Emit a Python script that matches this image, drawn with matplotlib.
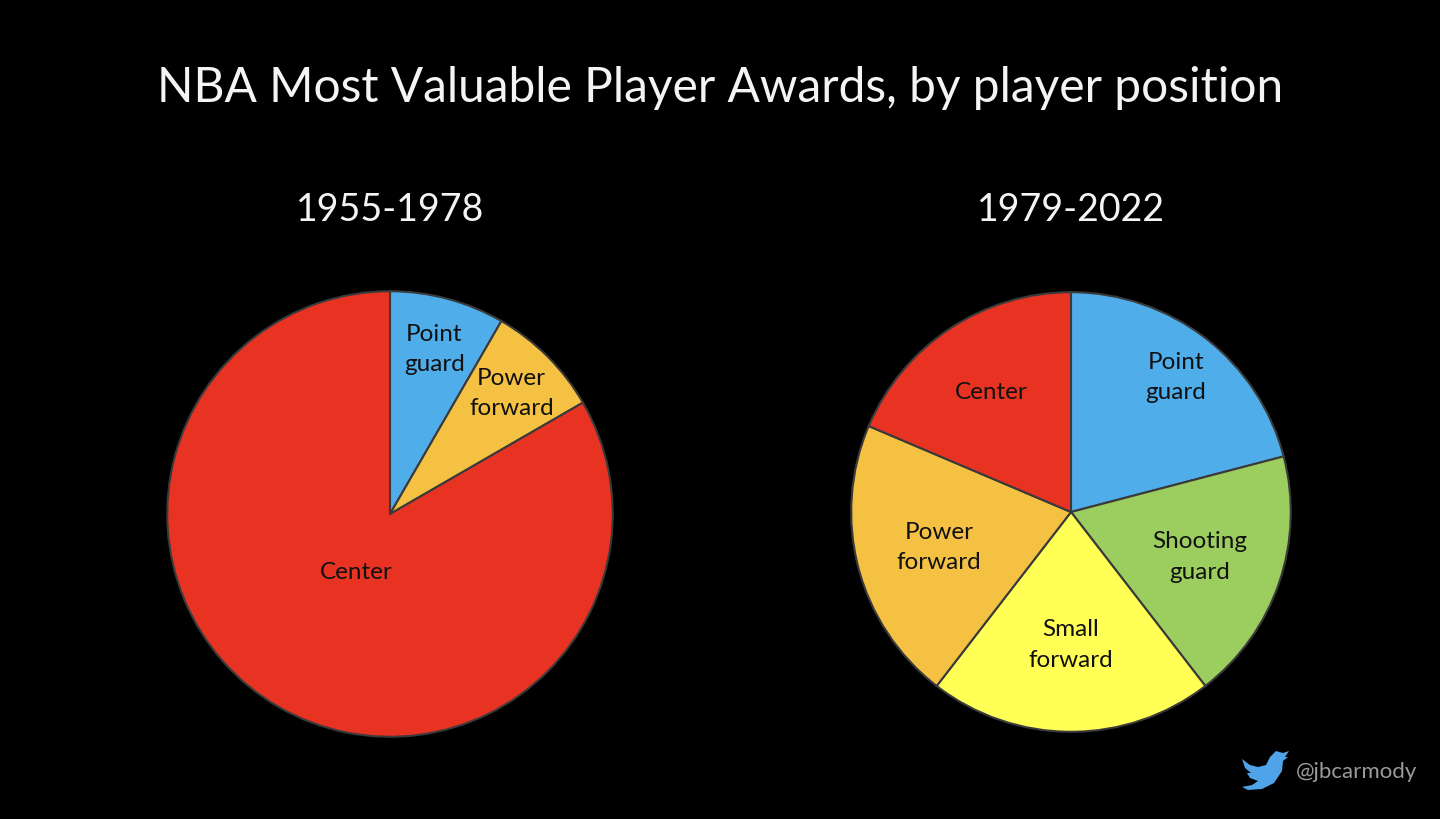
import numpy as np
import matplotlib.pyplot as plt
from matplotlib.patches import Polygon

# data
left_title = '1955-1978'
left_labels = ['Point\nguard', 'Power\nforward', 'Center']
left_values = [2, 2, 20]
left_colors = ['#4FADEA', '#F4C142', '#E83323']
left_dist = [0.77, 0.77, 0.30]

right_title = '1979-2022'
right_labels = ['Point\nguard', 'Shooting\nguard', 'Small\nforward', 'Power\nforward', 'Center']
right_values = [9, 8, 9, 9, 8]
right_colors = ['#4FADEA', '#9BCD5F', '#FFFF55', '#F4C142', '#E83323']
right_dist = [0.78, 0.62, 0.60, 0.62, 0.66]

W, H = 1440, 820
plt.rcParams['font.family'] = ['Lato', 'DejaVu Sans']
fig = plt.figure(figsize=(W / 100, H / 100), dpi=100, facecolor='black')

fig.text(720 / W, 1 - 88 / H, 'NBA Most Valuable Player Awards, by player position',
         color='#f4f4f4', fontsize=34.5, ha='center', va='center')


def draw_pie(cx, cy, r, title, labels, values, colors, dists):
    ax = fig.add_axes([(cx - r) / W, (H - cy - r) / H, 2 * r / W, 2 * r / H])
    ax.set_facecolor('black')
    wedges, _ = ax.pie(values, colors=colors, startangle=90, counterclock=False,
                       radius=1, wedgeprops=dict(edgecolor='#3a3a3a', linewidth=1.5))
    for w, lab, d in zip(wedges, labels, dists):
        a = np.deg2rad((w.theta1 + w.theta2) / 2)
        ax.text(d * np.cos(a), d * np.sin(a), lab, ha='center', va='center',
                fontsize=17.5, color='#111111', linespacing=1.55)
    ax.set_xlim(-1.01, 1.01)
    ax.set_ylim(-1.01, 1.01)
    ax.set_aspect('equal')
    ax.axis('off')
    fig.text(cx / W, 1 - 210 / H, title, color='#f4f4f4', fontsize=27,
             ha='center', va='center')


draw_pie(390, 515, 225, left_title, left_labels, left_values, left_colors, left_dist)
draw_pie(1071, 513, 222, right_title, right_labels, right_values, right_colors, right_dist)

# twitter handle
bird = [(1242, 760), (1250, 766), (1258, 768), (1266, 766), (1270, 758), (1276, 752),
        (1283, 754), (1289, 752), (1285, 758), (1288, 758), (1283, 762), (1282, 772),
        (1274, 784), (1262, 790), (1248, 791), (1242, 788), (1252, 786), (1258, 782),
        (1250, 779), (1247, 774), (1251, 774), (1245, 769)]
fig.patches.append(Polygon([(x / W, 1 - y / H) for x, y in bird], closed=True,
                           transform=fig.transFigure, facecolor='#4FA3E8', edgecolor='none'))
fig.text(1296 / W, 1 - 772 / H, '@jbcarmody', color='#9a9a9a', fontsize=16,
         ha='left', va='center')

fig.savefig('out.png', dpi=100, facecolor='black')
